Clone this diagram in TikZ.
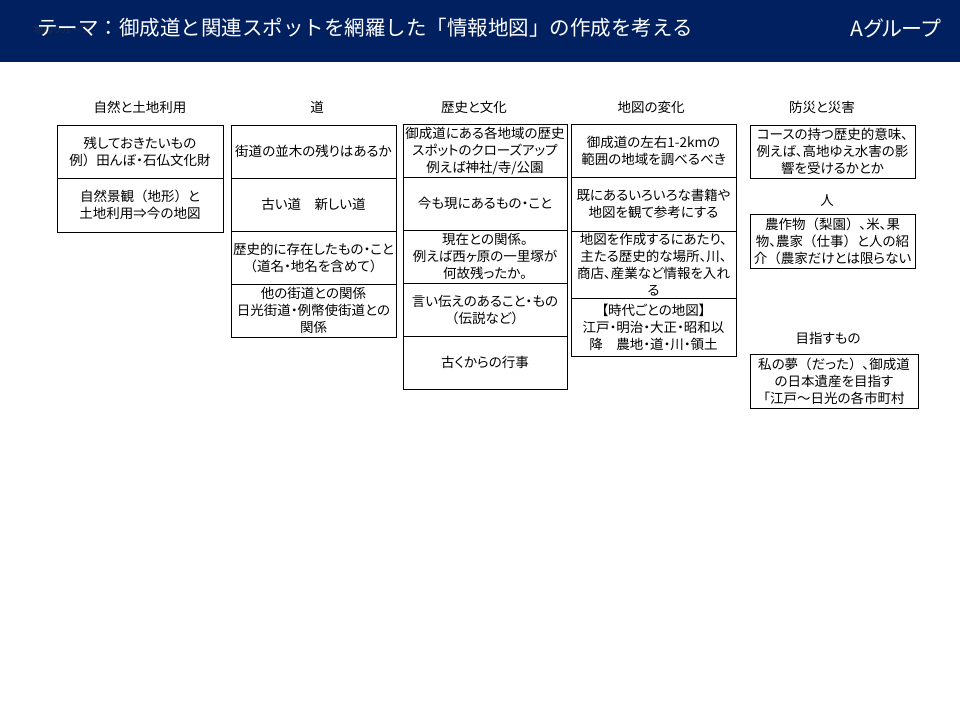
\documentclass[tikz,border=0pt]{standalone}
\usepackage{fontspec}
\setmainfont[RawFeature=+palt]{Noto Sans CJK JP}
\newfontfamily\fw{Noto Sans CJK JP}
\newcommand\flp{{\fw （}}
\newcommand\frp{{\fw ）}}
\definecolor{navy}{HTML}{002060}
\definecolor{ghostc}{HTML}{2A2A40}
\newcommand\mycell[6]{\node[cell,minimum width={(#4)-(#2)},minimum height={(#5)-(#3)}] (#1) at ({((#2)+(#4))/2},{((#3)+(#5))/2}) {#6};}
\begin{document}
\begin{tikzpicture}[x=1pt,y=-1pt,
  cell/.style={draw=black,line width=0.9pt,inner sep=0pt,align=center,font=\fontsize{13.5}{17}\selectfont},
  lab/.style={font=\fontsize{13.5}{15}\selectfont},
  head/.style={text=white,font=\fontsize{21}{24}\selectfont,inner sep=0pt}]
\useasboundingbox (0,0) rectangle (960,720);
\fill[navy] (0,0) rectangle (960,62);
\node[anchor=west,text=ghostc,font=\fontsize{10}{12}\selectfont,inner sep=0pt] (ghost) at (33,30) {地図グループ};
\node[head,anchor=west,font=\fw\fontsize{20.5}{24}\selectfont] (title) at (37,28) {テーマ：御成道と関連スポットを網羅した「情報地図」の作成を考える};
\node[head,anchor=east] (grp) at (941,28) {Aグループ};
% labels
\node[lab] (l1) at (140,107) {自然と土地利用};
\node[lab] (l2) at (317,107) {道};
\node[lab] (l3) at (474,107) {歴史と文化};
\node[lab] (l4) at (651,107) {地図の変化};
\node[lab] (l5) at (822,107) {防災と災害};
\node[lab] (l6) at (827,201) {人};
\node[lab] (l7) at (828,338) {目指すもの};
% column 1
\mycell{a1}{57}{125}{223}{178}{残しておきたいもの\\例\frp 田んぼ・石仏文化財}
\mycell{a2}{57}{178}{223}{232}{自然景観\flp 地形\frp と\\土地利用⇒今の地図}
% column 2
\mycell{b1}{231}{125}{396}{178}{街道の並木の残りはあるか}
\mycell{b2}{231}{178}{396}{231}{古い道　新しい道}
\mycell{b3}{231}{231}{396}{284}{歴史的に存在したもの・こと\\\flp 道名・地名を含めて\frp}
\mycell{b4}{231}{284}{396}{337}{他の街道との関係\\日光街道・例幣使街道との\\関係}
% column 3
\mycell{c1}{403}{124}{567}{177}{御成道にある各地域の歴史\\スポットのクローズアップ\\例えば神社/寺/公園}
\mycell{c2}{403}{177}{567}{230}{今も現にあるもの・こと}
\mycell{c3}{403}{230}{567}{283}{現在との関係。\\例えば西ヶ原の一里塚が\\何故残ったか。}
\mycell{c4}{403}{283}{567}{336}{言い伝えのあること・もの\\\flp 伝説など\frp}
\mycell{c5}{403}{336}{567}{389}{古くからの行事}
% column 4
\mycell{d1}{571}{124}{736}{177}{御成道の左右1-2kmの\\範囲の地域を調べるべき}
\mycell{d2}{571}{177}{736}{231}{既にあるいろいろな書籍や\\地図を観て参考にする}
\mycell{d3}{571}{231}{736}{298}{地図を作成するにあたり、\\主たる歴史的な場所、川、\\商店、産業など情報を入れ\\る}
\mycell{d4}{571}{298}{736}{356}{【時代ごとの地図】\\江戸・明治・大正・昭和以\\降　農地・道・川・領土}
% column 5
\mycell{e1}{750}{125}{915}{178}{コースの持つ歴史的意味、\\例えば、高地ゆえ水害の影\\響を受けるかとか}
\mycell{e2}{750}{214}{915}{268}{農作物\flp 梨園\frp 、米、果\\物、農家\flp 仕事\frp と人の紹\\介\flp 農家だけとは限らない}
\mycell{e3}{750}{354}{918}{408}{私の夢\flp だった\frp 、御成道\\の日本遺産を目指す\\「江戸～日光の各市町村}
\end{tikzpicture}
\end{document}
